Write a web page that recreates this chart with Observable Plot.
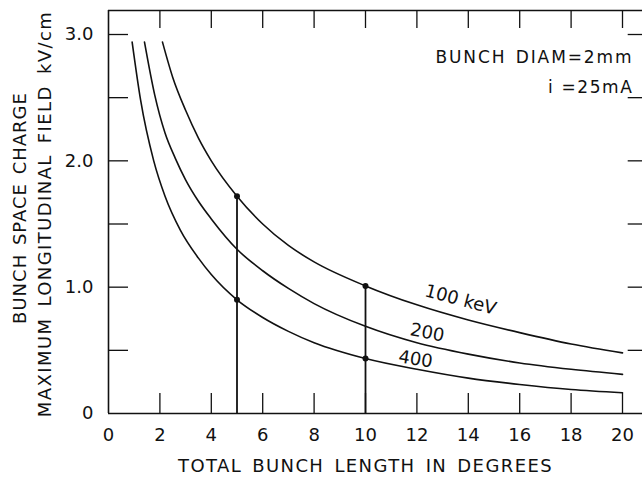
<!DOCTYPE html>
<html>
<head>
<meta charset="utf-8">
<script src="https://cdn.jsdelivr.net/npm/d3@7"></script>
<script src="https://cdn.jsdelivr.net/npm/@observablehq/plot@0.6"></script>
<style>
  html, body { margin: 0; padding: 0; background: #fff; }
  #chart svg { display: block; }
</style>
</head>
<body>
<div id="chart"></div>
<script>
// ---- data ----
const series = ["100 keV", "200", "400"];
const x100 = [2.1, 2.5, 3, 3.5, 4, 5, 6, 7, 8, 10, 12, 14, 16, 18, 20];
const y100 = [2.94, 2.66, 2.40, 2.18, 2.00, 1.72, 1.50, 1.33, 1.20, 1.01, 0.86, 0.74, 0.64, 0.55, 0.48];
const x200 = [1.4, 1.8, 2.2, 2.6, 3, 3.5, 4, 5, 6, 7, 8, 10, 12, 14, 16, 18, 20];
const y200 = [2.94, 2.52, 2.22, 2.02, 1.85, 1.68, 1.54, 1.30, 1.13, 0.99, 0.87, 0.69, 0.56, 0.47, 0.40, 0.35, 0.31];
const x400 = [0.92, 1.25, 1.76, 2.2, 2.8, 3.5, 4, 5, 6, 7, 8, 10, 12, 14, 16, 18, 20];
const y400 = [2.94, 2.48, 2.00, 1.72, 1.45, 1.23, 1.10, 0.90, 0.76, 0.65, 0.56, 0.435, 0.35, 0.28, 0.23, 0.19, 0.164];

const markX = [5, 5, 10, 10];          // marked points
const markY = [1.72, 0.90, 1.01, 0.435];
const stemX = [5, 10];                  // vertical lines
const stemTop = [1.72, 1.01];

const xTickLabels = [0, 2, 4, 6, 8, 10, 12, 14, 16, 18, 20];
const yTickLabels = [0, 1, 2, 3];
const yMinorTicks = [0.5, 1, 1.5, 2, 2.5, 3];
const topTicks = [2, 4, 6, 8, 10, 12, 14, 16, 18, 20];

const labelText = ["100 keV", "200", "400"];
const labelX = [13.7, 12.4, 11.95];
const labelY = [0.9, 0.64, 0.43];
const labelAngle = [15, 11, 9];

const xTitle = "TOTAL BUNCH LENGTH IN DEGREES";
const yTitle1 = "BUNCH SPACE CHARGE";
const yTitle2 = "MAXIMUM LONGITUDINAL FIELD kV/cm";
const note1 = "BUNCH DIAM=2mm";
const note2 = "i =25mA";

// ---- build tables ----
const curves = [];
[[x100, y100], [x200, y200], [x400, y400]].forEach(([xs, ys], k) => {
  xs.forEach((x, i) => curves.push({series: series[k], x, y: ys[i]}));
});
const dots = markX.map((x, i) => ({x, y: markY[i]}));
const stems = stemX.map((x, i) => ({x, top: stemTop[i]}));
const labels = labelText.map((t, i) => ({t, x: labelX[i], y: labelY[i], a: labelAngle[i]}));

const Y_TOP = 3.19, X_RIGHT = 21;
const font = "'DejaVu Sans', sans-serif";
const ink = "#111";

const chart = Plot.plot({
  width: 642,
  height: 481,
  marginLeft: 108,
  marginRight: 20,
  marginTop: 10,
  marginBottom: 68,
  style: {fontFamily: font, fontSize: "16px", color: ink, background: "#fff", overflow: "visible"},
  x: {domain: [0, 20], axis: null},
  y: {domain: [0, Y_TOP], axis: null},
  marks: [
    // frame: left, bottom, top
    Plot.ruleX([0], {y1: 0, y2: Y_TOP, strokeWidth: 1.6, stroke: ink}),
    Plot.ruleY([0], {x1: 0, x2: X_RIGHT, strokeWidth: 1.6, stroke: ink}),
    Plot.ruleY([Y_TOP], {x1: 0, x2: X_RIGHT, strokeWidth: 1.6, stroke: ink}),
    // inward ticks
    Plot.ruleX(xTickLabels.filter(d => d > 0), {x: d => d, y1: 0, y2: 0, insetTop: -20, strokeWidth: 1.3, stroke: ink}),
    Plot.ruleX(topTicks, {x: d => d, y1: Y_TOP, y2: Y_TOP, insetBottom: -18, strokeWidth: 1.3, stroke: ink}),
    Plot.ruleY(yMinorTicks, {y: d => d, x1: 0, x2: 0, insetRight: -20, strokeWidth: 1.3, stroke: ink}),
    Plot.ruleY(yMinorTicks, {y: d => d, x1: X_RIGHT, x2: X_RIGHT, insetLeft: -20, strokeWidth: 1.3, stroke: ink}),
    // tick labels
    Plot.axisX(xTickLabels, {tickSize: 0, tickPadding: 15, fontSize: 18, label: null, tickFormat: d => String(d)}),
    Plot.axisY(yTickLabels, {tickSize: 0, tickPadding: 15, fontSize: 18, label: null, tickFormat: d => d === 0 ? "0" : d.toFixed(1)}),
    // titles
    Plot.text([xTitle], {text: d => d, frameAnchor: "bottom", dy: 53, lineAnchor: "middle", fontSize: 18, fill: ink}),
    Plot.text([yTitle1], {text: d => d, frameAnchor: "left", textAnchor: "middle", dx: -88, dy: -4, rotate: -90,
      fontSize: 18, fill: ink}),
    Plot.text([yTitle2], {text: d => d, frameAnchor: "left", textAnchor: "middle", dx: -63, dy: 2, rotate: -90,
      fontSize: 18, fill: ink}),
    Plot.text([note1], {text: d => d, frameAnchor: "top-right", dx: 11, dy: 47, textAnchor: "end", lineAnchor: "middle",
      fontSize: 17, fill: ink}),
    Plot.text([note2], {text: d => d, frameAnchor: "top-right", dx: 11, dy: 77, textAnchor: "end", lineAnchor: "middle",
      fontSize: 17, fill: ink}),
    // vertical stems
    Plot.ruleX(stems, {x: "x", y1: 0, y2: "top", strokeWidth: 1.8, stroke: ink}),
    // curves
    Plot.line(curves, {x: "x", y: "y", z: "series", curve: "monotone-x", strokeWidth: 1.6, stroke: ink}),
    Plot.dot(dots, {x: "x", y: "y", r: 3, fill: ink, stroke: "none"}),
    // curve labels
    ...labels.map(l => Plot.text([l], {x: "x", y: "y", text: "t", rotate: l.a, fontSize: 18, fill: ink}))
  ]
});

// letter spacing for the lettered titles (Plot has no letterSpacing option)
const spacing = new Map([
  [xTitle, ["1.4px", "3px"]], [yTitle1, ["1px", "2px"]], [yTitle2, ["1.4px", "4px"]],
  [note1, ["1.9px", "2px"]], [note2, ["1.6px", "0px"]]
]);
d3.select(chart).selectAll("text").each(function () {
  const s = spacing.get(this.textContent);
  if (s) { this.style.letterSpacing = s[0]; this.style.wordSpacing = s[1]; }
});
document.getElementById("chart").appendChild(chart);
</script>
</body>
</html>
